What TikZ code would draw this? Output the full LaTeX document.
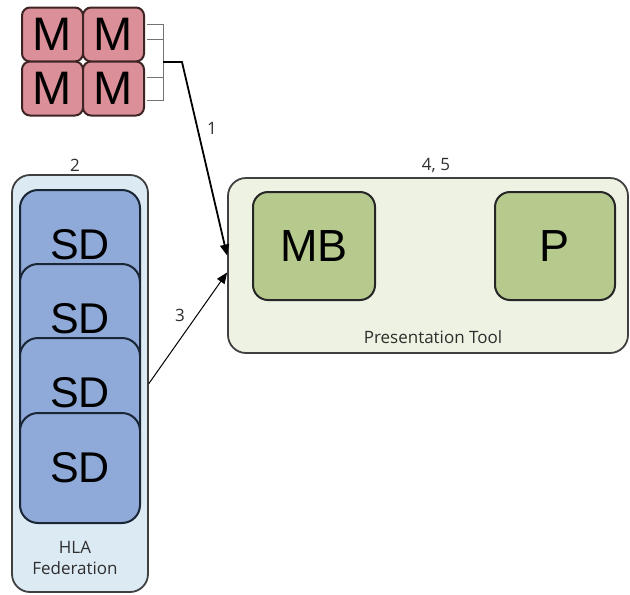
\documentclass[tikz,border=0pt]{standalone}
\usepackage{fontspec}
\setmainfont{Liberation Sans}
\newfontfamily\labelfont{Open Sans}
\usepackage{tikz}
\usetikzlibrary{arrows.meta}

\definecolor{mfill}{HTML}{DB9099}
\definecolor{mline}{HTML}{3E2424}
\definecolor{sdfill}{HTML}{8FAAD8}
\definecolor{sdline}{HTML}{1A2636}
\definecolor{fedfill}{HTML}{DCEAF4}
\definecolor{presfill}{HTML}{EEF2E2}
\definecolor{mbfill}{HTML}{B6CA8E}
\definecolor{txtgray}{HTML}{2E2E2E}

\tikzset{
  mbox/.style={draw=mline,line width=2pt,fill=mfill,rounded corners=8pt,
    minimum width=61pt,minimum height=54pt,inner sep=0pt,font=\fontsize{47}{47}\selectfont},
  sdbox/.style={draw=sdline,line width=2pt,fill=sdfill,rounded corners=18pt,
    minimum width=120pt,minimum height=110pt,inner sep=0pt,font=\fontsize{43}{43}\selectfont},
  tool/.style={draw=black!75,line width=1.8pt,rounded corners=18pt,inner sep=0pt},
  part/.style={draw=black!85,line width=2pt,fill=mbfill,rounded corners=15pt,
    minimum height=108pt,inner sep=0pt,font=\fontsize{45}{45}\selectfont},
  lbl/.style={text=txtgray,font=\labelfont\fontsize{17}{21}\selectfont,inner sep=1pt},
  link/.style={-{Triangle[length=11pt,width=9pt]},line width=1.8pt},
}

\begin{document}
\begin{tikzpicture}[x=1pt,y=-1pt]
			\useasboundingbox (0,0) rectangle (630,595);
			% models
			\node[mbox] (m1) at (52.5,34.5) {M};
			\node[mbox] (m2) at (113.5,34.5) {M};
			\node[mbox] (m3) at (52.5,88.5) {M};
			\node[mbox] (m4) at (113.5,88.5) {M};
			\coordinate (br) at (163,62);
			\coordinate (bend) at (182,62);
			\draw[black!55,line width=0.9pt] (147,24)--(163,24)--(163,100)--(147,100);
			\draw[black!55,line width=0.9pt] (147,39)--(163,39);
			\draw[black!55,line width=0.9pt] (147,77)--(163,77);
			% federation
			\node[tool,fill=fedfill,minimum width=136pt,minimum height=417pt] (fed) at (80,383.5) {};
			\node[sdbox] (sd1) at (80,245) {SD};
			\node[sdbox] (sd2) at (80,319) {SD};
			\node[sdbox] (sd3) at (80,393) {SD};
			\node[sdbox] (sd4) at (80,468) {SD};
			\node[lbl,align=center] (fedtxt) at (75,558) {HLA\\Federation};
			% presentation tool
			\node[tool,fill=presfill,minimum width=400pt,minimum height=175pt] (pres) at (428,265.5) {};
			\node[part,minimum width=122pt] (mb) at (314,246) {MB};
			\node[part,minimum width=120pt] (p) at (555,246) {P};
			\node[lbl] (prestxt) at (433,337) {Presentation Tool};
			% connectors
			\draw[link] (br)--(bend)--([yshift=10pt]pres.west);
			\draw[link,line width=1pt] (fed.east)--([yshift=-7pt]pres.west);
			\node[lbl] (n1) at (212,128) {1};
			\node[lbl] (n2) at (75,165) {2};
			\node[lbl] (n3) at (180,315) {3};
			\node[lbl] (n45) at (436,165) {4, 5};
		\end{tikzpicture}
\end{document}
